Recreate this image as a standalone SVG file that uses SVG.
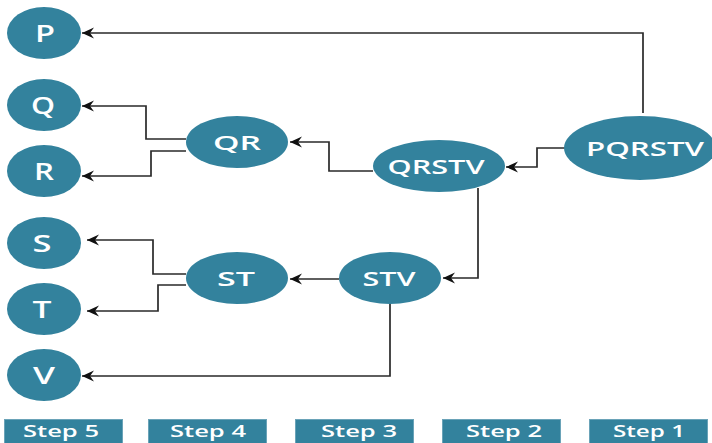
<svg xmlns="http://www.w3.org/2000/svg" width="712" height="443" viewBox="0 0 712 443">
<style>
.n{fill:#33829d}
.t{fill:#ffffff;font-family:"Open Sans","DejaVu Sans",sans-serif;font-weight:600;text-anchor:middle}
.big{font-size:23px}
.mid{font-size:20px}
.st{font-size:16px}
.c{fill:none;stroke:#2a2a2a;stroke-width:1.7}
.box{fill:#33829d;stroke:#6aa3b8;stroke-width:1}
</style>
<defs>
<marker id="a" markerWidth="14" markerHeight="12" refX="13" refY="6" orient="auto" markerUnits="userSpaceOnUse">
<path d="M13,6 L1,0.5 L5,6 L1,11.5 Z" fill="#111"/>
</marker>
</defs>
<rect width="712" height="443" fill="#ffffff"/>
<g id="connectors">
<path class="c" d="M643,113 V33 H82" marker-end="url(#a)"/>
<path class="c" d="M565,148 H537 V167 H506" marker-end="url(#a)"/>
<path class="c" d="M373,171 H329 V142 H290" marker-end="url(#a)"/>
<path class="c" d="M478,188 V278 H443" marker-end="url(#a)"/>
<path class="c" d="M186,139 H146 V106 H82" marker-end="url(#a)"/>
<path class="c" d="M186,151 H151 V176 H82" marker-end="url(#a)"/>
<path class="c" d="M339,279 H290" marker-end="url(#a)"/>
<path class="c" d="M186,274 H153 V240 H87" marker-end="url(#a)"/>
<path class="c" d="M186,285 H158 V311 H87" marker-end="url(#a)"/>
<path class="c" d="M390,303 V376 H82" marker-end="url(#a)"/>
</g>
<g id="P"><ellipse class="n" cx="44" cy="33" rx="37" ry="26"/><text class="t big" x="45" y="42" textLength="20" lengthAdjust="spacingAndGlyphs">P</text></g>
<g id="Q"><ellipse class="n" cx="44" cy="105" rx="37" ry="26"/><text class="t big" x="43" y="114" textLength="24" lengthAdjust="spacingAndGlyphs">Q</text></g>
<g id="R"><ellipse class="n" cx="44" cy="171" rx="37" ry="26"/><text class="t big" x="44" y="180" textLength="20" lengthAdjust="spacingAndGlyphs">R</text></g>
<g id="S"><ellipse class="n" cx="44" cy="243" rx="37" ry="26"/><text class="t big" x="42" y="252" textLength="19" lengthAdjust="spacingAndGlyphs">S</text></g>
<g id="T"><ellipse class="n" cx="44" cy="309" rx="37" ry="26"/><text class="t big" x="42" y="318" textLength="19" lengthAdjust="spacingAndGlyphs">T</text></g>
<g id="V"><ellipse class="n" cx="44" cy="375" rx="37" ry="26"/><text class="t big" x="44" y="384" textLength="22" lengthAdjust="spacingAndGlyphs">V</text></g>
<g id="QR"><ellipse class="n" cx="237" cy="142" rx="51" ry="26"/><text class="t mid" x="237" y="150" textLength="48" lengthAdjust="spacingAndGlyphs">QR</text></g>
<g id="QRSTV"><ellipse class="n" cx="439" cy="166" rx="66" ry="26"/><text class="t mid" x="436" y="174" textLength="97" lengthAdjust="spacingAndGlyphs">QRSTV</text></g>
<g id="PQRSTV"><ellipse class="n" cx="640" cy="148" rx="76" ry="32"/><text class="t mid" x="645" y="156" textLength="118" lengthAdjust="spacingAndGlyphs">PQRSTV</text></g>
<g id="ST"><ellipse class="n" cx="237" cy="278" rx="51" ry="26"/><text class="t mid" x="236" y="286" textLength="38" lengthAdjust="spacingAndGlyphs">ST</text></g>
<g id="STV"><ellipse class="n" cx="390" cy="278" rx="51" ry="26"/><text class="t mid" x="389" y="286" textLength="53" lengthAdjust="spacingAndGlyphs">STV</text></g>
<g id="steps">
<rect class="box" x="4.5" y="419.5" width="118" height="26"/><text class="t st" x="61" y="437" textLength="76" lengthAdjust="spacingAndGlyphs">Step 5</text>
<rect class="box" x="148.5" y="419.5" width="118" height="26"/><text class="t st" x="208" y="437" textLength="76" lengthAdjust="spacingAndGlyphs">Step 4</text>
<rect class="box" x="295.5" y="419.5" width="118" height="26"/><text class="t st" x="359" y="437" textLength="76" lengthAdjust="spacingAndGlyphs">Step 3</text>
<rect class="box" x="442.5" y="419.5" width="118" height="26"/><text class="t st" x="504" y="437" textLength="76" lengthAdjust="spacingAndGlyphs">Step 2</text>
<rect class="box" x="589.5" y="419.5" width="118" height="26"/><text class="t st" x="649" y="437" textLength="72" lengthAdjust="spacingAndGlyphs">Step 1</text>
</g>
</svg>
